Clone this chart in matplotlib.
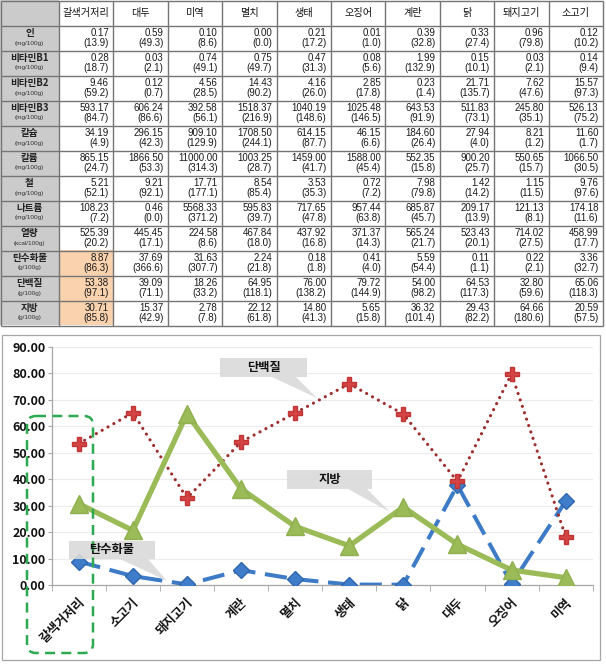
import matplotlib
matplotlib.use('Agg')
import matplotlib.pyplot as plt
from matplotlib.patches import Rectangle, FancyBboxPatch, Polygon
import matplotlib.transforms as mtransforms
import numpy as np

KR = ['Noto Sans CJK KR', 'DejaVu Sans']
NUM = ['Liberation Sans', 'DejaVu Sans']

# ---------------- data ----------------
foods = ['갈색거저리', '대두', '미역', '멸치', '생태', '오징어', '계란', '닭', '돼지고기', '소고기']
row_names = ['인', '비타민B1', '비타민B2', '비타민B3', '칼슘', '칼륨', '철', '나트륨',
             '열량', '탄수화물', '단백질', '지방']
row_units = ['(mg/100g)', '(mg/100g)', '(mg/100g)', '(mg/100g)', '(mg/100g)', '(mg/100g)',
             '(mg/100g)', '(mg/100g)', '(kcal/100g)', '(g/100g)', '(g/100g)', '(g/100g)']

p_val = [0.17, 0.59, 0.10, 0.00, 0.21, 0.01, 0.39, 0.33, 0.96, 0.12]
p_pct = [13.9, 49.3, 8.6, 0.0, 17.2, 1.0, 32.8, 27.4, 79.8, 10.2]
b1_val = [0.28, 0.03, 0.74, 0.75, 0.47, 0.08, 1.99, 0.15, 0.03, 0.14]
b1_pct = [18.7, 2.1, 49.1, 49.7, 31.3, 5.6, 132.9, 10.1, 2.1, 9.4]
b2_val = [9.46, 0.12, 4.56, 14.43, 4.16, 2.85, 0.23, 21.71, 7.62, 15.57]
b2_pct = [59.2, 0.7, 28.5, 90.2, 26.0, 17.8, 1.4, 135.7, 47.6, 97.3]
b3_val = [593.17, 606.24, 392.58, 1518.37, 1040.19, 1025.48, 643.53, 511.83, 245.80, 526.13]
b3_pct = [84.7, 86.6, 56.1, 216.9, 148.6, 146.5, 91.9, 73.1, 35.1, 75.2]
ca_val = [34.19, 296.15, 909.10, 1708.50, 614.15, 46.15, 184.60, 27.94, 8.21, 11.60]
ca_pct = [4.9, 42.3, 129.9, 244.1, 87.7, 6.6, 26.4, 4.0, 1.2, 1.7]
k_val = [865.15, 1866.50, 11000.00, 1003.25, 1459.00, 1588.00, 552.35, 900.20, 550.65, 1066.50]
k_pct = [24.7, 53.3, 314.3, 28.7, 41.7, 45.4, 15.8, 25.7, 15.7, 30.5]
fe_val = [5.21, 9.21, 17.71, 8.54, 3.53, 0.72, 7.98, 1.42, 1.15, 9.76]
fe_pct = [52.1, 92.1, 177.1, 85.4, 35.3, 7.2, 79.8, 14.2, 11.5, 97.6]
na_val = [108.23, 0.46, 5568.33, 595.83, 717.65, 957.44, 685.87, 209.17, 121.13, 174.18]
na_pct = [7.2, 0.0, 371.2, 39.7, 47.8, 63.8, 45.7, 13.9, 8.1, 11.6]
kcal_val = [525.39, 445.45, 224.58, 467.84, 437.92, 371.37, 565.24, 523.43, 714.02, 458.99]
kcal_pct = [20.2, 17.1, 8.6, 18.0, 16.8, 14.3, 21.7, 20.1, 27.5, 17.7]
carb_val = [8.87, 37.69, 31.63, 2.24, 0.18, 0.41, 5.59, 0.11, 0.22, 3.36]
carb_pct = [86.3, 366.6, 307.7, 21.8, 1.8, 4.0, 54.4, 1.1, 2.1, 32.7]
prot_val = [53.38, 39.09, 18.26, 64.95, 76.00, 79.72, 54.00, 64.53, 32.80, 65.06]
prot_pct = [97.1, 71.1, 33.2, 118.1, 138.2, 144.9, 98.2, 117.3, 59.6, 118.3]
fat_val = [30.71, 15.37, 2.78, 22.12, 14.80, 5.65, 36.32, 29.43, 64.66, 20.59]
fat_pct = [85.8, 42.9, 7.8, 61.8, 41.3, 15.8, 101.4, 82.2, 180.6, 57.5]

chart_order = ['갈색거저리', '소고기', '돼지고기', '계란', '멸치', '생태', '닭', '대두', '오징어', '미역']

rows_val = [p_val, b1_val, b2_val, b3_val, ca_val, k_val, fe_val, na_val, kcal_val,
            carb_val, prot_val, fat_val]
rows_pct = [p_pct, b1_pct, b2_pct, b3_pct, ca_pct, k_pct, fe_pct, na_pct, kcal_pct,
            carb_pct, prot_pct, fat_pct]

# ---------------- figure ----------------
W, H = 606, 669
fig = plt.figure(figsize=(W / 100, H / 100), dpi=100)
fig.patch.set_facecolor('white')

bg = fig.add_axes([0, 0, 1, 1], zorder=0)
bg.set_xlim(0, W)
bg.set_ylim(H, 0)
bg.axis('off')

# ---- table ----
hdr_w = 59.0
tbl_right = 603.0
col_w = (tbl_right - hdr_w) / len(foods)
row_h = 25.0
n_rows = len(row_names) + 1
line_c = '#757575'
gray_c = '#CBCBCB'
orange_c = '#FAD2AE'

bg.add_patch(Rectangle((0, 0), hdr_w, row_h, facecolor=gray_c, edgecolor='none'))
for r in range(len(row_names)):
    top = row_h * (r + 1)
    bg.add_patch(Rectangle((0, top), hdr_w, row_h, facecolor=gray_c, edgecolor='none'))
    if row_names[r] in ('탄수화물', '단백질', '지방'):
        bg.add_patch(Rectangle((hdr_w, top), col_w, row_h, facecolor=orange_c, edgecolor='none'))

for r in range(n_rows + 1):
    y = r * row_h
    bg.plot([0.5, tbl_right], [y + 0.5, y + 0.5], color=line_c, lw=1.0, solid_capstyle='butt')
for c in range(len(foods) + 2):
    x = 0.5 if c == 0 else hdr_w + (c - 1) * col_w
    bg.plot([x, x], [0.5, n_rows * row_h + 0.5], color=line_c, lw=1.0, solid_capstyle='butt')

for j, f in enumerate(foods):
    bg.text(hdr_w + (j + 0.5) * col_w, row_h / 2 + 0.5, f, ha='center', va='center',
            fontsize=7.3, family=KR, color='#111111')

for r, (nm, un) in enumerate(zip(row_names, row_units)):
    top = row_h * (r + 1)
    bg.text(hdr_w / 2, top + 8.3, nm, ha='center', va='center', fontsize=6.9,
            family=KR, weight='bold', color='#222222')
    bg.text(hdr_w / 2, top + 18.0, un, ha='center', va='center', fontsize=4.6,
            family=NUM, color='#333333')
    for j in range(len(foods)):
        xr = hdr_w + (j + 1) * col_w - 4.5
        bg.text(xr, top + 8.0, f'{rows_val[r][j]:.2f}', ha='right', va='center',
                fontsize=7.0, family=NUM, color='#1A1A1A')
        bg.text(xr, top + 18.2, f'({rows_pct[r][j]:.1f})', ha='right', va='center',
                fontsize=7.0, family=NUM, color='#1A1A1A')

# chart frame
bg.add_patch(Rectangle((1.7, 335), 598.3, 325, facecolor='white', edgecolor='#A6A6A6', lw=0.9))

# ---- chart ----
ax_l, ax_r, ax_t, ax_b = 51.7, 592.7, 346.7, 585.0
ax = fig.add_axes([ax_l / W, 1 - ax_b / H, (ax_r - ax_l) / W, (ax_b - ax_t) / H], zorder=1)
ax.patch.set_alpha(0)

xpos = np.arange(len(chart_order))
idx = [foods.index(f) for f in chart_order]
carb_chart = [carb_val[i] for i in idx]
prot_chart = [prot_val[i] for i in idx]
fat_chart = [fat_val[i] for i in idx]

ax.plot(xpos, carb_chart, color='#3D7BC7', lw=2.9, dashes=(5.5, 2.4),
        marker='D', markersize=8.5, markerfacecolor='#3F7DCA', markeredgecolor='#2F66AE',
        zorder=3)
ax.plot(xpos, prot_chart, color='#9E2E2E', lw=2.3, linestyle=(0, (0.01, 2.1)),
        dash_capstyle='round', marker='P', markersize=9.5, markerfacecolor='#D44444',
        markeredgecolor='#C03434', zorder=4)
ax.plot(xpos, fat_chart, color='#9BBB59', lw=3.8, solid_joinstyle='miter',
        marker='^', markersize=13.5, markerfacecolor='#9BBB59', markeredgecolor='#8FB04D',
        zorder=5)

ax.set_xlim(-0.5, len(chart_order) - 0.5)
ax.set_ylim(0, 90)
ax.set_yticks(np.arange(0, 91, 10))
ax.set_yticklabels([f'{v:.2f}' for v in np.arange(0, 91, 10)], fontsize=9.0,
                   family=KR, weight='bold', color='#111111')
ax.yaxis.grid(True, color='#ECECEC', lw=0.8)
ax.set_axisbelow(True)
for s in ('top', 'right'):
    ax.spines[s].set_visible(False)
for s in ('left', 'bottom'):
    ax.spines[s].set_color('#A6A6A6')
    ax.spines[s].set_linewidth(0.9)
ax.tick_params(axis='y', length=3, color='#A6A6A6', pad=1.5)

ax.set_xticks(xpos)
ax.set_xticks(np.arange(-0.5, len(chart_order), 1.0), minor=True)
ax.tick_params(axis='x', which='major', length=0, pad=11)
ax.tick_params(axis='x', which='minor', length=4, color='#A6A6A6', direction='out')
ax.set_xticklabels(chart_order, rotation=45, ha='right', va='center',
                   rotation_mode='anchor', fontsize=9.0, family=KR, weight='bold',
                   color='#111111')
offset = mtransforms.ScaledTranslation(4 / 100, 0, fig.dpi_scale_trans)
for lab in ax.get_xticklabels():
    lab.set_transform(lab.get_transform() + offset)

# ---- overlay: callouts and highlight ----
ov = fig.add_axes([0, 0, 1, 1], zorder=2)
ov.set_xlim(0, W)
ov.set_ylim(H, 0)
ov.axis('off')
ov.patch.set_alpha(0)

call_c = '#DADADA'

def callout(box, base, tip, text):
    x0, x1, y0, y1 = box
    ov.add_patch(Polygon([base[0], base[1], tip], closed=True, facecolor=call_c,
                         edgecolor='none', alpha=0.9))
    ov.add_patch(Rectangle((x0, y0), x1 - x0, y1 - y0, facecolor=call_c,
                           edgecolor='none', alpha=0.9))
    ov.text((x0 + x1) / 2, (y0 + y1) / 2, text, ha='center', va='center',
            fontsize=8.8, family=KR, weight='bold', color='#111111')

callout((220, 307, 358, 377), ((272, 377), (296, 377)), (317, 398), '단백질')
callout((287, 372, 470, 489), ((348, 489), (367, 489)), (390, 512), '지방')
callout((69, 155, 541, 559), ((120, 559), (148, 559)), (167, 581), '탄수화물')

r = 9
ov.add_patch(FancyBboxPatch((27 + r, 416 + r), 66 - 2 * r, 237 - 2 * r,
                            boxstyle=f'round,pad={r}', facecolor='none',
                            edgecolor='#2DAA4F', lw=1.8, linestyle=(0, (4, 2.5))))

fig.savefig('out.png', dpi=100)
